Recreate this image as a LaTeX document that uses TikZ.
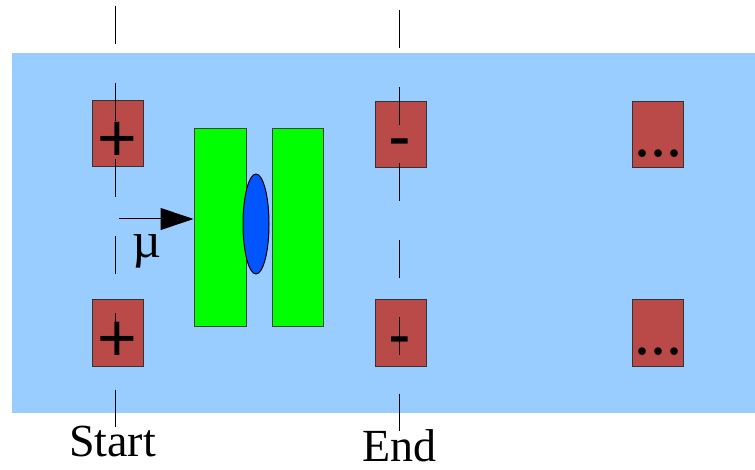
\documentclass[tikz,border=0pt]{standalone}
\usepackage{fontspec}
\setmainfont{Liberation Serif}
\newfontfamily\symfont{Liberation Sans}
\usetikzlibrary{arrows.meta,shapes.geometric}
\definecolor{bgblue}{RGB}{153,204,255}
\definecolor{padred}{RGB}{185,74,72}
\definecolor{platgreen}{RGB}{0,255,0}
\definecolor{lensblue}{RGB}{0,85,255}
\begin{document}
\begin{tikzpicture}[x=1bp,y=-1bp,
  pad/.style={draw=black!80, line width=1bp, fill=padred,
    minimum width=51bp, minimum height=66bp, inner sep=0pt},
  plate/.style={draw=black!75, line width=1bp, fill=platgreen,
    minimum width=52bp, minimum height=197bp, inner sep=0pt},
  lens/.style={ellipse, draw=black, line width=1bp, fill=lensblue,
    minimum width=26bp, minimum height=100bp, inner sep=0pt},
  axisline/.style={line width=1bp, dash pattern=on 38bp off 38.7bp},
  sign/.style={font=\fontsize{68bp}{68bp}\selectfont\symfont, inner sep=0pt, anchor=base},
  dots/.style={font=\fontsize{64bp}{64bp}\selectfont, inner sep=0pt, anchor=base},
  label/.style={font=\fontsize{46bp}{46bp}\selectfont, inner sep=0pt, anchor=base}]
\useasboundingbox (0,0) rectangle (755,470);
% chamber background
\fill[bgblue] (12,53) rectangle (755,413);
% electrode pads
\node[pad] (p1) at (117.5,133.5) {};
\node[pad] (p2) at (117.5,333) {};
\node[pad] (p3) at (401,135) {};
\node[pad] (p4) at (401,333) {};
\node[pad] (p5) at (658,135) {};
\node[pad] (p6) at (658,333) {};
% start and end planes
\coordinate (sTop) at (115,6);
\coordinate (sBot) at (115,427);
\coordinate (eTop) at (399,10);
\coordinate (eBot) at (399,431);
\draw[axisline] (sTop) -- (sBot);
\draw[axisline] (eTop) -- (eBot);
% pad polarities
\node[sign] (s1) at (117,162) {+};
\node[sign] (s2) at (117,362) {+};
\node[sign] (s3) at (400,159.5) {-};
\node[sign] (s4) at (400,357.5) {-};
\node[dots] (d1) at (658,156.5) {...};
\node[dots] (d2) at (658,354.5) {...};
% plates and lens
\node[plate] (plL) at (220,227.5) {};
\node[plate, minimum width=51bp] (plR) at (297.5,227.5) {};
\node[lens] (ln) at (256,224) {};
% incoming muon
\coordinate (mu0) at (119,219);
\draw[line width=1bp, -{Triangle[length=33bp,width=22bp]}] (mu0) -- (mu0 -| plL.west);
\node[label, font=\fontsize{50bp}{50bp}\selectfont] (mu) at (147,258) {µ};
% plane labels
\node[label] (lstart) at (112.5,456) {Start};
\node[label] (lend) at (399.5,461) {End};
\end{tikzpicture}
\end{document}
